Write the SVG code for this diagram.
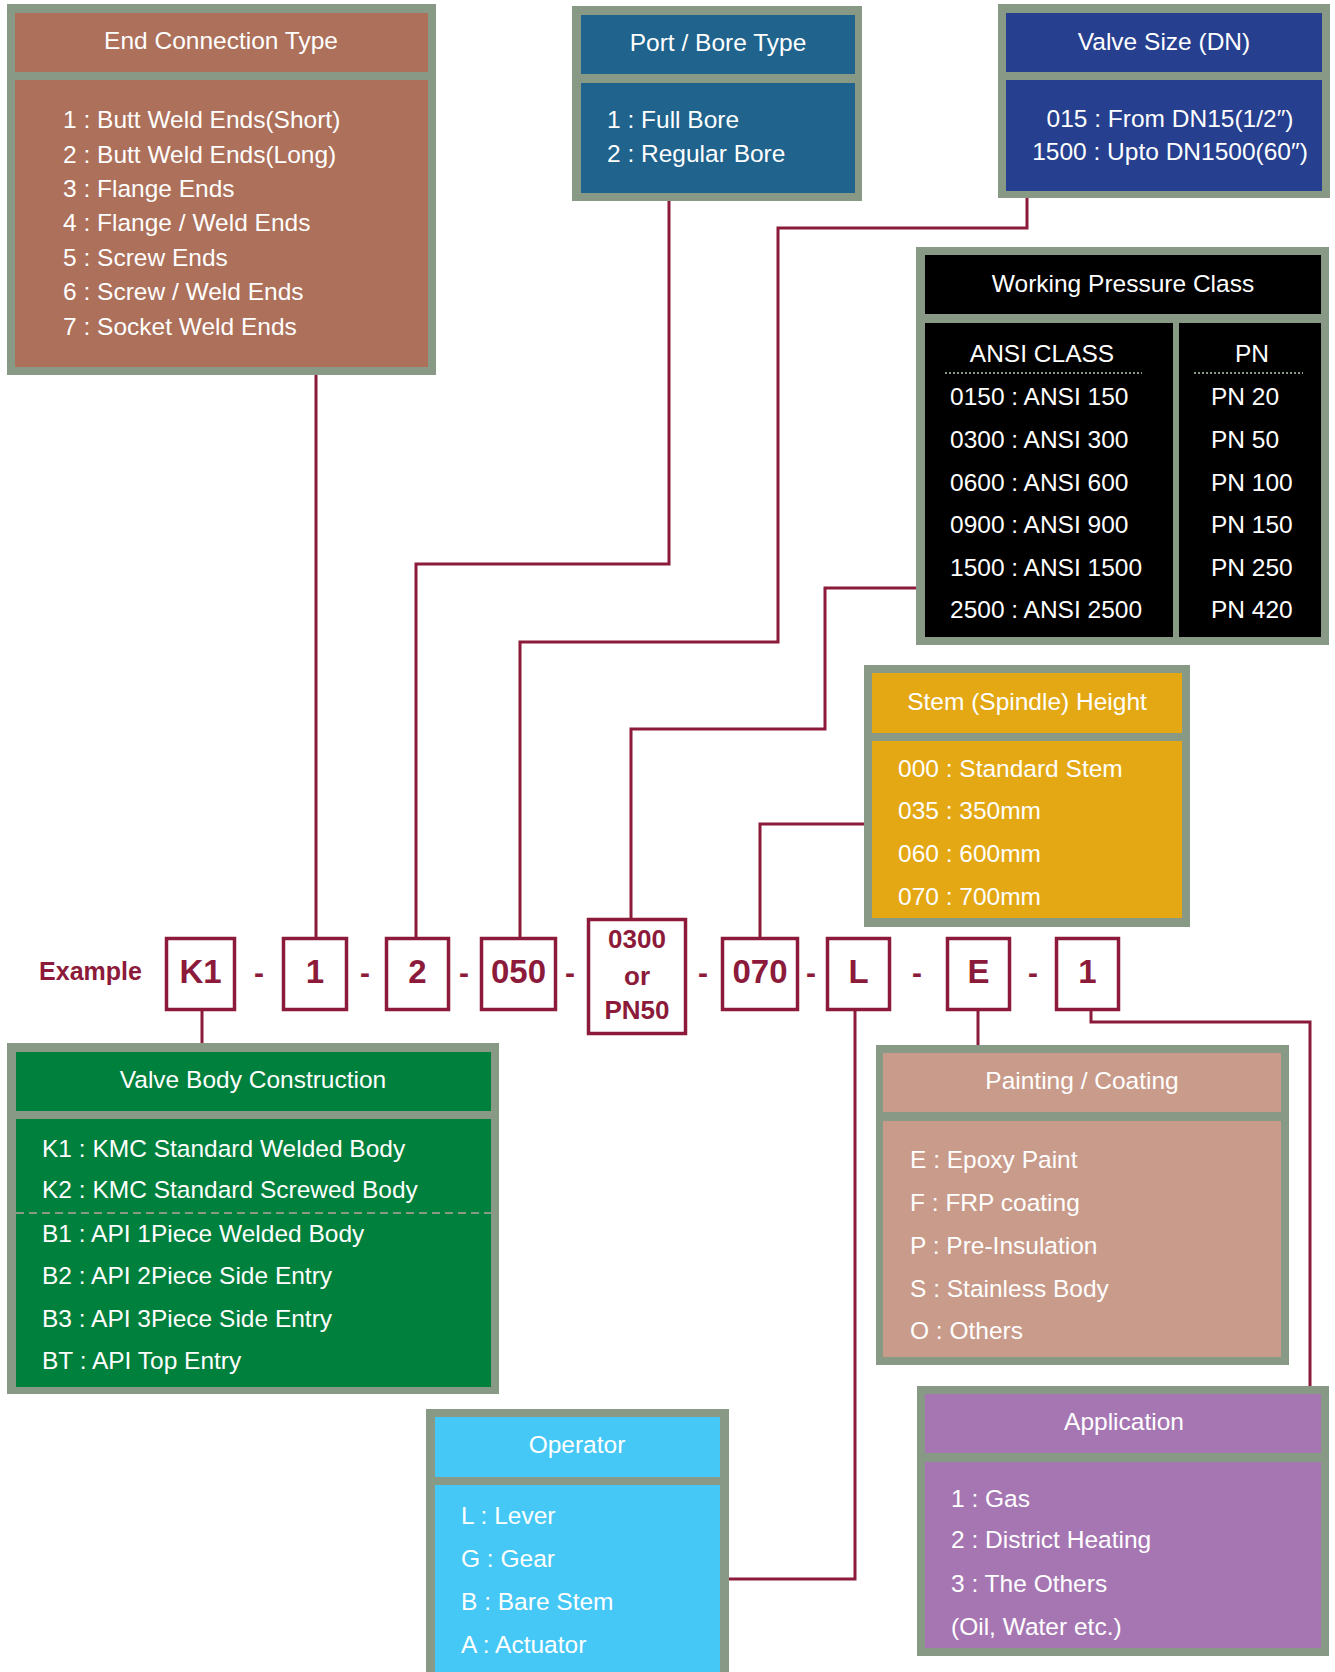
<svg xmlns="http://www.w3.org/2000/svg" width="1335" height="1672" viewBox="0 0 1335 1672">
<style>
.g{fill:#889a86}
.t{font-family:"Liberation Sans",Arial,sans-serif;font-size:24.5px;fill:#fff}
.m{text-anchor:middle}
.c{fill:none;stroke:#8c1a3a;stroke-width:3}
.k{fill:#fff;stroke:#8c1a3a;stroke-width:3.5}
.kt{font-family:"Liberation Sans",Arial,sans-serif;font-weight:bold;fill:#8c1a3a;text-anchor:middle}
.dot{stroke:#889a86;stroke-width:2;stroke-dasharray:2 2;fill:none}
</style>
<rect width="1335" height="1672" fill="#fff"/>
<g id="connectors">
<path class="c" d="M316 375V937"/>
<path class="c" d="M669 201V564H416V937"/>
<path class="c" d="M1027 198V228H778V642H520V937"/>
<path class="c" d="M916 588H825V729H631V918"/>
<path class="c" d="M864 824H760V937"/>
<path class="c" d="M202 1011V1043"/>
<path class="c" d="M855 1011V1579H729"/>
<path class="c" d="M978 1011V1045"/>
<path class="c" d="M1091 1011V1022H1310V1386"/>
</g>
<g id="end-connection">
<rect class="g" x="7" y="4" width="429" height="371"/>
<rect x="15" y="13" width="413" height="59" fill="#ad705a"/>
<rect x="15" y="80" width="413" height="287" fill="#ad705a"/>
<text class="t m" x="221" y="49">End Connection Type</text>
<text class="t" x="63" y="128">1 : Butt Weld Ends(Short)</text>
<text class="t" x="63" y="162.5">2 : Butt Weld Ends(Long)</text>
<text class="t" x="63" y="197">3 : Flange Ends</text>
<text class="t" x="63" y="231">4 : Flange / Weld Ends</text>
<text class="t" x="63" y="266">5 : Screw Ends</text>
<text class="t" x="63" y="300">6 : Screw / Weld Ends</text>
<text class="t" x="63" y="335">7 : Socket Weld Ends</text>
</g>
<g id="port-bore">
<rect class="g" x="572" y="6" width="290" height="195"/>
<rect x="581" y="15" width="274" height="59" fill="#20638c"/>
<rect x="581" y="83" width="274" height="110" fill="#20638c"/>
<text class="t m" x="718" y="51">Port / Bore Type</text>
<text class="t" x="607" y="128">1 : Full Bore</text>
<text class="t" x="607" y="162">2 : Regular Bore</text>
</g>
<g id="valve-size">
<rect class="g" x="998" y="4" width="332" height="194"/>
<rect x="1006" y="13" width="316" height="59" fill="#263f8f"/>
<rect x="1006" y="80" width="316" height="111" fill="#263f8f"/>
<text class="t m" x="1164" y="50">Valve Size (DN)</text>
<text class="t m" x="1170" y="127">015 : From DN15(1/2″)</text>
<text class="t m" x="1170" y="160">1500 : Upto DN1500(60″)</text>
</g>
<g id="working-pressure">
<rect class="g" x="916" y="247" width="413" height="398"/>
<rect x="925" y="255" width="396" height="59" fill="#000"/>
<rect x="925" y="323" width="248" height="314" fill="#000"/>
<rect x="1179" y="323" width="142" height="314" fill="#000"/>
<text class="t m" x="1123" y="292">Working Pressure Class</text>
<text class="t m" x="1042" y="362">ANSI CLASS</text>
<text class="t m" x="1252" y="362">PN</text>
<path class="dot" d="M945 373H1142M1194 373H1303"/>
<text class="t" x="950" y="405">0150 : ANSI 150</text>
<text class="t" x="950" y="448">0300 : ANSI 300</text>
<text class="t" x="950" y="491">0600 : ANSI 600</text>
<text class="t" x="950" y="533">0900 : ANSI 900</text>
<text class="t" x="950" y="576">1500 : ANSI 1500</text>
<text class="t" x="950" y="618">2500 : ANSI 2500</text>
<text class="t" x="1211" y="405">PN 20</text>
<text class="t" x="1211" y="448">PN 50</text>
<text class="t" x="1211" y="491">PN 100</text>
<text class="t" x="1211" y="533">PN 150</text>
<text class="t" x="1211" y="576">PN 250</text>
<text class="t" x="1211" y="618">PN 420</text>
</g>
<g id="stem-height">
<rect class="g" x="864" y="665" width="326" height="262"/>
<rect x="872" y="673" width="310" height="60" fill="#e4a814"/>
<rect x="872" y="741" width="310" height="177" fill="#e4a814"/>
<text class="t m" x="1027" y="710">Stem (Spindle) Height</text>
<text class="t" x="898" y="777">000 : Standard Stem</text>
<text class="t" x="898" y="819">035 : 350mm</text>
<text class="t" x="898" y="862">060 : 600mm</text>
<text class="t" x="898" y="905">070 : 700mm</text>
</g>
<g id="example">
<text class="kt" x="90.5" y="980" font-size="25">Example</text>
<rect class="k" x="166.5" y="938.5" width="68" height="71"/>
<text class="kt" x="200.5" y="983" font-size="33">K1</text>
<rect class="k" x="283.5" y="938.5" width="63" height="71"/>
<text class="kt" x="315" y="983" font-size="33">1</text>
<rect class="k" x="386.5" y="938.5" width="62" height="71"/>
<text class="kt" x="417.5" y="983" font-size="33">2</text>
<rect class="k" x="481.5" y="938.5" width="74" height="71"/>
<text class="kt" x="518.5" y="983" font-size="33">050</text>
<rect class="k" x="588.5" y="919.5" width="97" height="114"/>
<text class="kt" x="637" y="948" font-size="26">0300</text>
<text class="kt" x="637" y="985" font-size="26">or</text>
<text class="kt" x="637" y="1019" font-size="26">PN50</text>
<rect class="k" x="722.5" y="938.5" width="75" height="71"/>
<text class="kt" x="760" y="983" font-size="33">070</text>
<rect class="k" x="827.5" y="938.5" width="62" height="71"/>
<text class="kt" x="858.5" y="983" font-size="33">L</text>
<rect class="k" x="947.5" y="938.5" width="62" height="71"/>
<text class="kt" x="978.5" y="983" font-size="33">E</text>
<rect class="k" x="1056.5" y="938.5" width="62" height="71"/>
<text class="kt" x="1087.5" y="983" font-size="33">1</text>
<text class="kt" x="259" y="983" font-size="30">-</text>
<text class="kt" x="365" y="983" font-size="30">-</text>
<text class="kt" x="464" y="983" font-size="30">-</text>
<text class="kt" x="570" y="983" font-size="30">-</text>
<text class="kt" x="703" y="983" font-size="30">-</text>
<text class="kt" x="811" y="983" font-size="30">-</text>
<text class="kt" x="917" y="983" font-size="30">-</text>
<text class="kt" x="1033" y="983" font-size="30">-</text>
</g>
<g id="valve-body">
<rect class="g" x="7" y="1043" width="492" height="351"/>
<rect x="16" y="1052" width="475" height="59" fill="#00803d"/>
<rect x="16" y="1119" width="475" height="268" fill="#00803d"/>
<text class="t m" x="253" y="1088">Valve Body Construction</text>
<text class="t" x="42" y="1157">K1 : KMC Standard Welded Body</text>
<text class="t" x="42" y="1198">K2 : KMC Standard Screwed Body</text>
<path d="M16 1213H491" stroke="#889a86" stroke-width="2" stroke-dasharray="8 5"/>
<text class="t" x="42" y="1242">B1 : API 1Piece Welded Body</text>
<text class="t" x="42" y="1284">B2 : API 2Piece Side Entry</text>
<text class="t" x="42" y="1327">B3 : API 3Piece Side Entry</text>
<text class="t" x="42" y="1369">BT : API Top Entry</text>
</g>
<g id="painting">
<rect class="g" x="876" y="1045" width="413" height="320"/>
<rect x="883" y="1053" width="398" height="59" fill="#c99b8a"/>
<rect x="883" y="1121" width="398" height="236" fill="#c99b8a"/>
<text class="t m" x="1082" y="1089">Painting / Coating</text>
<text class="t" x="910" y="1168">E : Epoxy Paint</text>
<text class="t" x="910" y="1211">F : FRP coating</text>
<text class="t" x="910" y="1254">P : Pre-Insulation</text>
<text class="t" x="910" y="1297">S : Stainless Body</text>
<text class="t" x="910" y="1339">O : Others</text>
</g>
<g id="operator">
<rect class="g" x="426" y="1409" width="303" height="270"/>
<rect x="435" y="1417" width="285" height="60" fill="#45c8f5"/>
<rect x="435" y="1485" width="285" height="200" fill="#45c8f5"/>
<text class="t m" x="577" y="1453">Operator</text>
<text class="t" x="461" y="1524">L : Lever</text>
<text class="t" x="461" y="1567">G : Gear</text>
<text class="t" x="461" y="1610">B : Bare Stem</text>
<text class="t" x="461" y="1653">A : Actuator</text>
</g>
<g id="application">
<rect class="g" x="917" y="1386" width="412" height="270"/>
<rect x="925" y="1394" width="396" height="59" fill="#a676b3"/>
<rect x="925" y="1462" width="396" height="186" fill="#a676b3"/>
<text class="t m" x="1124" y="1430">Application</text>
<text class="t" x="951" y="1507">1 : Gas</text>
<text class="t" x="951" y="1548">2 : District Heating</text>
<text class="t" x="951" y="1592">3 : The Others</text>
<text class="t" x="951" y="1635">(Oil, Water etc.)</text>
</g>
</svg>
